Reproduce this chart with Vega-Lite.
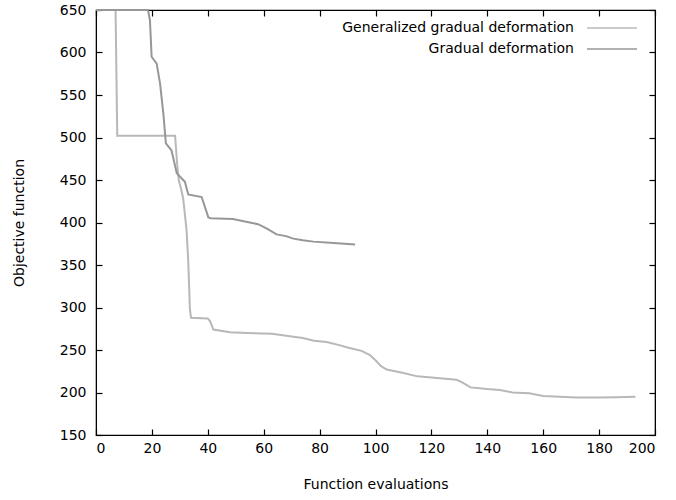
{
  "$schema": "https://vega.github.io/schema/vega-lite/v6.json",
  "width": 559,
  "height": 425,
  "autosize": {"type": "none"},
  "padding": {"left": 96, "top": 10, "right": 21, "bottom": 65},
  "background": "white",
  "config": {
    "view": {"stroke": "black", "strokeWidth": 1.2},
    "font": "DejaVu Sans",
    "axis": {
      "grid": false,
      "domainColor": "black",
      "tickColor": "black",
      "labelColor": "black",
      "titleColor": "black",
      "labelFont": "DejaVu Sans",
      "titleFont": "DejaVu Sans",
      "labelFontSize": 14,
      "titleFontSize": 14,
      "titleFontWeight": "normal",
      "tickSize": -6,
      "tickWidth": 1.2
    }
  },
  "data": {
    "values": [
      {"series": "Generalized gradual deformation", "i": 0, "evals": 0, "obj": 650},
      {"series": "Generalized gradual deformation", "i": 1, "evals": 7, "obj": 650},
      {"series": "Generalized gradual deformation", "i": 2, "evals": 7.6, "obj": 502},
      {"series": "Generalized gradual deformation", "i": 3, "evals": 28.3, "obj": 502},
      {"series": "Generalized gradual deformation", "i": 4, "evals": 29, "obj": 470},
      {"series": "Generalized gradual deformation", "i": 5, "evals": 29.6, "obj": 450},
      {"series": "Generalized gradual deformation", "i": 6, "evals": 30.4, "obj": 440},
      {"series": "Generalized gradual deformation", "i": 7, "evals": 31.2, "obj": 428},
      {"series": "Generalized gradual deformation", "i": 8, "evals": 32.4, "obj": 391},
      {"series": "Generalized gradual deformation", "i": 9, "evals": 33, "obj": 355},
      {"series": "Generalized gradual deformation", "i": 10, "evals": 33.6, "obj": 298},
      {"series": "Generalized gradual deformation", "i": 11, "evals": 34, "obj": 288},
      {"series": "Generalized gradual deformation", "i": 12, "evals": 40, "obj": 287},
      {"series": "Generalized gradual deformation", "i": 13, "evals": 40.8, "obj": 284},
      {"series": "Generalized gradual deformation", "i": 14, "evals": 42, "obj": 274},
      {"series": "Generalized gradual deformation", "i": 15, "evals": 48, "obj": 271},
      {"series": "Generalized gradual deformation", "i": 16, "evals": 54, "obj": 270},
      {"series": "Generalized gradual deformation", "i": 17, "evals": 63, "obj": 269},
      {"series": "Generalized gradual deformation", "i": 18, "evals": 70, "obj": 266},
      {"series": "Generalized gradual deformation", "i": 19, "evals": 74, "obj": 264},
      {"series": "Generalized gradual deformation", "i": 20, "evals": 78, "obj": 261},
      {"series": "Generalized gradual deformation", "i": 21, "evals": 82.5, "obj": 259.5},
      {"series": "Generalized gradual deformation", "i": 22, "evals": 86.7, "obj": 256},
      {"series": "Generalized gradual deformation", "i": 23, "evals": 90, "obj": 253},
      {"series": "Generalized gradual deformation", "i": 24, "evals": 95, "obj": 249},
      {"series": "Generalized gradual deformation", "i": 25, "evals": 98, "obj": 244},
      {"series": "Generalized gradual deformation", "i": 26, "evals": 100, "obj": 238},
      {"series": "Generalized gradual deformation", "i": 27, "evals": 102, "obj": 231},
      {"series": "Generalized gradual deformation", "i": 28, "evals": 104, "obj": 227},
      {"series": "Generalized gradual deformation", "i": 29, "evals": 110, "obj": 223},
      {"series": "Generalized gradual deformation", "i": 30, "evals": 115, "obj": 219},
      {"series": "Generalized gradual deformation", "i": 31, "evals": 122, "obj": 217},
      {"series": "Generalized gradual deformation", "i": 32, "evals": 129, "obj": 215},
      {"series": "Generalized gradual deformation", "i": 33, "evals": 131, "obj": 212},
      {"series": "Generalized gradual deformation", "i": 34, "evals": 134, "obj": 206},
      {"series": "Generalized gradual deformation", "i": 35, "evals": 140, "obj": 204},
      {"series": "Generalized gradual deformation", "i": 36, "evals": 144.5, "obj": 203},
      {"series": "Generalized gradual deformation", "i": 37, "evals": 149, "obj": 200},
      {"series": "Generalized gradual deformation", "i": 38, "evals": 155, "obj": 199},
      {"series": "Generalized gradual deformation", "i": 39, "evals": 160, "obj": 196},
      {"series": "Generalized gradual deformation", "i": 40, "evals": 166, "obj": 195},
      {"series": "Generalized gradual deformation", "i": 41, "evals": 172, "obj": 194},
      {"series": "Generalized gradual deformation", "i": 42, "evals": 180, "obj": 194},
      {"series": "Generalized gradual deformation", "i": 43, "evals": 186, "obj": 194.5},
      {"series": "Generalized gradual deformation", "i": 44, "evals": 193, "obj": 195},
      {"series": "Gradual deformation", "i": 0, "evals": 0, "obj": 650},
      {"series": "Gradual deformation", "i": 1, "evals": 18.6, "obj": 650},
      {"series": "Gradual deformation", "i": 2, "evals": 19.3, "obj": 638},
      {"series": "Gradual deformation", "i": 3, "evals": 19.9, "obj": 595},
      {"series": "Gradual deformation", "i": 4, "evals": 21.7, "obj": 587},
      {"series": "Gradual deformation", "i": 5, "evals": 22.9, "obj": 564},
      {"series": "Gradual deformation", "i": 6, "evals": 24.1, "obj": 528},
      {"series": "Gradual deformation", "i": 7, "evals": 25, "obj": 493},
      {"series": "Gradual deformation", "i": 8, "evals": 27, "obj": 485},
      {"series": "Gradual deformation", "i": 9, "evals": 28.9, "obj": 458},
      {"series": "Gradual deformation", "i": 10, "evals": 31.8, "obj": 448},
      {"series": "Gradual deformation", "i": 11, "evals": 33, "obj": 433},
      {"series": "Gradual deformation", "i": 12, "evals": 37.8, "obj": 430},
      {"series": "Gradual deformation", "i": 13, "evals": 40.2, "obj": 406},
      {"series": "Gradual deformation", "i": 14, "evals": 41, "obj": 405},
      {"series": "Gradual deformation", "i": 15, "evals": 49, "obj": 404},
      {"series": "Gradual deformation", "i": 16, "evals": 55, "obj": 400},
      {"series": "Gradual deformation", "i": 17, "evals": 58, "obj": 398},
      {"series": "Gradual deformation", "i": 18, "evals": 61, "obj": 393},
      {"series": "Gradual deformation", "i": 19, "evals": 64.6, "obj": 386},
      {"series": "Gradual deformation", "i": 20, "evals": 68, "obj": 384},
      {"series": "Gradual deformation", "i": 21, "evals": 70.6, "obj": 381},
      {"series": "Gradual deformation", "i": 22, "evals": 74, "obj": 379},
      {"series": "Gradual deformation", "i": 23, "evals": 77.8, "obj": 377.5},
      {"series": "Gradual deformation", "i": 24, "evals": 85, "obj": 376},
      {"series": "Gradual deformation", "i": 25, "evals": 92.7, "obj": 374}
    ]
  },
  "encoding": {
    "x": {
      "field": "evals",
      "type": "quantitative",
      "scale": {"domain": [0, 200], "nice": false, "zero": false},
      "axis": {"title": "Function evaluations", "values": [0, 20, 40, 60, 80, 100, 120, 140, 160, 180, 200], "labelPadding": 12, "titleY": 42}
    },
    "y": {
      "field": "obj",
      "type": "quantitative",
      "scale": {"domain": [150, 650], "nice": false, "zero": false},
      "axis": {"title": "Objective function", "values": [150, 200, 250, 300, 350, 400, 450, 500, 550, 600, 650], "labelPadding": 16, "titleX": -70}
    },
    "color": {
      "field": "series",
      "type": "nominal",
      "scale": {"domain": ["Generalized gradual deformation", "Gradual deformation"], "range": ["#b8b8b8", "#979797"]},
      "legend": {
        "orient": "none",
        "legendX": 509,
        "legendY": 11,
        "title": null,
        "symbolType": "M-5,0H5",
        "symbolSize": 100,
        "symbolStrokeWidth": 1.5,
        "labelAlign": "right",
        "labelOffset": -45,
        "labelFont": "DejaVu Sans",
        "labelFontSize": 14,
        "labelColor": "black",
        "labelLimit": 400,
        "rowPadding": 7,
        "encode": {"symbols": {"update": {"stroke": {"signal": "datum.label === 'Gradual deformation' ? '#111111' : '#aaaaaa'"}}}}
      }
    },
    "order": {"field": "i", "type": "quantitative"}
  },
  "layer": [
    {
      "transform": [{"filter": "datum.series === 'Generalized gradual deformation'"}],
      "mark": {"type": "line", "strokeWidth": 2}
    },
    {
      "transform": [{"filter": "datum.series === 'Gradual deformation'"}],
      "mark": {"type": "line", "strokeWidth": 2},
      "encoding": {
        "x": {"field": "evals", "type": "quantitative", "axis": {"orient": "top", "labels": false, "title": null, "values": [0, 20, 40, 60, 80, 100, 120, 140, 160, 180, 200]}},
        "y": {"field": "obj", "type": "quantitative", "axis": {"orient": "right", "labels": false, "title": null, "values": [150, 200, 250, 300, 350, 400, 450, 500, 550, 600, 650]}}
      }
    }
  ],
  "resolve": {"axis": {"x": "independent", "y": "independent"}}
}
